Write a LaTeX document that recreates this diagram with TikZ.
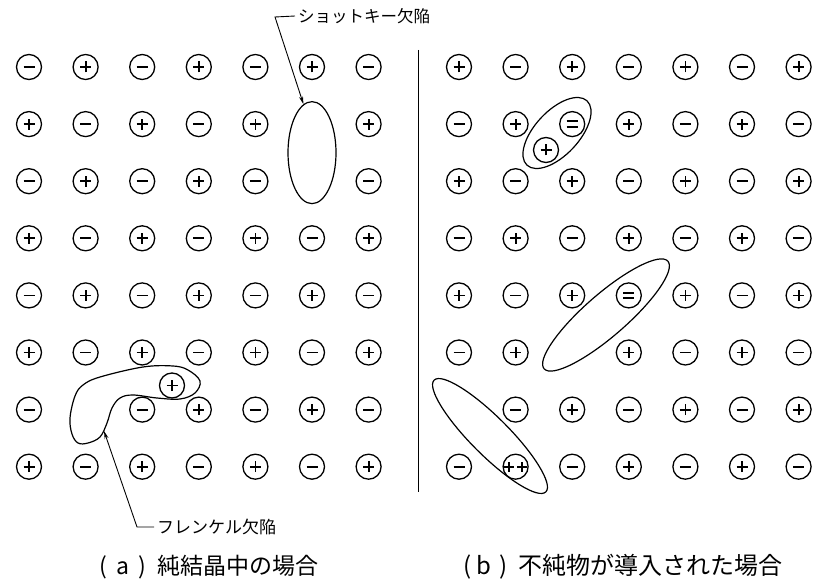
\documentclass[tikz,border=0pt]{standalone}
\usepackage{fontspec}
\newfontfamily\jp{Noto Sans CJK JP}
\usetikzlibrary{shapes.geometric,arrows.meta,calc}
\tikzset{
  ion/.style={circle, draw, line width=1.3pt, minimum size=25pt, inner sep=0pt},
  sgn/.style={line width=1.8pt},
  ionN/.style={ion, path picture={\draw[sgn] ([xshift=-5.5pt]path picture bounding box.center) -- ([xshift=5.5pt]path picture bounding box.center);}},
  ionP/.style={ion, path picture={\draw[sgn] ([xshift=-5.5pt]path picture bounding box.center) -- ([xshift=5.5pt]path picture bounding box.center) ([yshift=-5.5pt]path picture bounding box.center) -- ([yshift=5.5pt]path picture bounding box.center);}},
  ionNN/.style={ion, path picture={\draw[sgn] ([xshift=-5.5pt,yshift=2.8pt]path picture bounding box.center) -- ([xshift=5.5pt,yshift=2.8pt]path picture bounding box.center) ([xshift=-5.5pt,yshift=-2.8pt]path picture bounding box.center) -- ([xshift=5.5pt,yshift=-2.8pt]path picture bounding box.center);}},
  ionPP/.style={ion, path picture={\draw[sgn] ([xshift=-11.5pt]path picture bounding box.center) -- ([xshift=-1.5pt]path picture bounding box.center) ([xshift=1.5pt]path picture bounding box.center) -- ([xshift=11.5pt]path picture bounding box.center) ([xshift=-6.5pt,yshift=-5pt]path picture bounding box.center) -- ([xshift=-6.5pt,yshift=5pt]path picture bounding box.center) ([xshift=6.5pt,yshift=-5pt]path picture bounding box.center) -- ([xshift=6.5pt,yshift=5pt]path picture bounding box.center);}},
  ionV/.style={draw=none, circle, minimum size=25pt, inner sep=0pt},
  defect/.style={ellipse, draw, line width=1.2pt, inner sep=0pt},
  defectline/.style={line width=1.2pt},
  conn/.style={line width=0.9pt},
  arrowtip/.style={-{Stealth[length=8pt,width=4pt]}},
  labeltext/.style={font=\jp\fontsize{16.5}{16.5}\selectfont, inner xsep=3pt, inner ysep=0pt},
  captext/.style={inner sep=0pt, anchor=base west},
}
\begin{document}
\begin{tikzpicture}[x=1pt,y=-1pt]
\useasboundingbox (0,0) rectangle (816,580);
% left panel (a)
\foreach \row [count=\r from 0] in {
  {ionN,ionP,ionN,ionP,ionN,ionP,ionN},
  {ionP,ionN,ionP,ionN,ionP,ionV,ionP},
  {ionN,ionP,ionN,ionP,ionN,ionV,ionN},
  {ionP,ionN,ionP,ionN,ionP,ionN,ionP},
  {ionN,ionP,ionN,ionP,ionN,ionP,ionN},
  {ionP,ionN,ionP,ionN,ionP,ionN,ionP},
  {ionN,ionV,ionN,ionP,ionN,ionP,ionN},
  {ionP,ionN,ionP,ionN,ionP,ionN,ionP}} {
  \foreach \s [count=\c from 0] in \row {
    \node[\s] (a-\r-\c) at (29+56.6*\c, 67+57.1*\r) {};
  }
}
% right panel (b)
\foreach \row [count=\r from 0] in {
  {ionP,ionN,ionP,ionN,ionP,ionN,ionP},
  {ionN,ionP,ionNN,ionP,ionN,ionP,ionN},
  {ionP,ionN,ionP,ionN,ionP,ionN,ionP},
  {ionN,ionP,ionN,ionP,ionN,ionP,ionN},
  {ionP,ionN,ionP,ionNN,ionP,ionN,ionP},
  {ionN,ionP,ionV,ionP,ionN,ionP,ionN},
  {ionV,ionN,ionP,ionN,ionP,ionN,ionP},
  {ionN,ionPP,ionN,ionP,ionN,ionP,ionN}} {
  \foreach \s [count=\c from 0] in \row {
    \node[\s] (b-\r-\c) at (459+56.6*\c, 67+57.1*\r) {};
  }
}
% interstitials
\node[ionP] (fi) at (172,385.5) {};
\node[ionP] (bi) at (546,150) {};
% divider
\coordinate (dtop) at (418,50);
\coordinate (dbot) at (418,492);
\draw[conn] (dtop) -- (dbot);
% Schottky defect
\node[defect, minimum width=48pt, minimum height=102pt] (schottky) at ($(a-1-5)!0.5!(a-2-5)$) {};
\node[labeltext, anchor=west] (schl) at (295,16) {ショットキー欠陥};
\coordinate (sc) at (275,17);
\draw[conn, arrowtip] (schl.west) -- (sc) -- (schottky.100);
% Frenkel defect
\draw[defectline] plot[smooth cycle, tension=0.6] coordinates {
  (70,418) (75,396) (83,385) (100,377) (143,367) (173,366) (188,370) (200,381)
  (195,393) (180,399) (157,398) (133,395) (120,398) (112,408) (107,423)
  (100,437) (88,443) (78,443) (72,434)};
\coordinate (ft) at (104,431);
\node[labeltext, anchor=west, font=\jp\fontsize{17}{17}\selectfont] (frl) at (154,527) {フレンケル欠陥};
\coordinate (fc) at (137,527);
\draw[conn, arrowtip] (frl.west) -- (fc) -- (ft);
% impurity defects
\node[defect, minimum width=88pt, minimum height=44pt, rotate=47] (e1) at (557,133) {};
\node[defect, minimum width=164pt, minimum height=42pt, rotate=41] (e2) at (606,315) {};
\node[defect, minimum width=158pt, minimum height=38pt, rotate=-45] (e3) at (490,436) {};
% captions
\node[captext, font=\jp\fontsize{23}{23}\selectfont] (capa) at (93,574)
  {\makebox[20pt]{(}\makebox[20pt]{a}\makebox[18pt]{)}\hspace{6pt}純結晶中の場合};
\node[captext, font=\jp\fontsize{24}{24}\selectfont] (capb) at (458,574)
  {\makebox[18pt]{(}\makebox[16pt]{b}\makebox[22pt]{)}\hspace{4pt}不純物が導入された場合};
\end{tikzpicture}
\end{document}
